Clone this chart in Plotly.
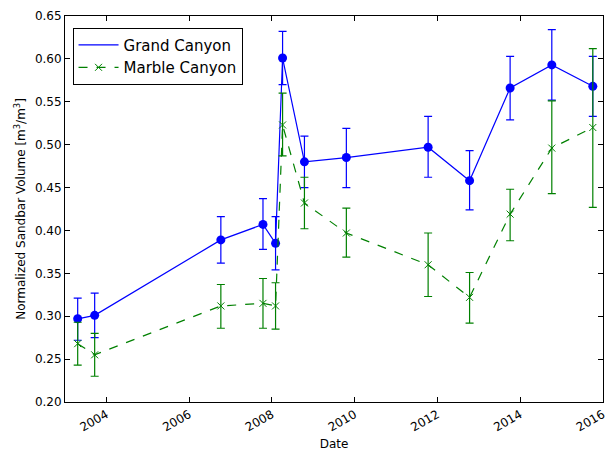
import plotly.graph_objects as go

dates = ["2003-04-23", "2003-09-20", "2006-10-08", "2007-10-15", "2008-02-03",
         "2008-04-05", "2008-10-15", "2009-10-20", "2011-10-12", "2012-10-12",
         "2013-10-05", "2014-10-08", "2015-10-05"]

grand = [0.297, 0.301, 0.389, 0.407, 0.385, 0.601, 0.480, 0.485, 0.497, 0.458,
         0.566, 0.593, 0.568]
grand_up = [0.024, 0.026, 0.027, 0.030, 0.031, 0.031, 0.030, 0.034, 0.036, 0.035,
            0.037, 0.041, 0.035]
grand_dn = [0.025, 0.026, 0.027, 0.029, 0.031, 0.031, 0.030, 0.035, 0.035, 0.034,
            0.037, 0.041, 0.035]

marble = [0.268, 0.255, 0.312, 0.315, 0.312, 0.523, 0.432, 0.397, 0.360, 0.322,
          0.419, 0.496, 0.520]
marble_up = [0.025, 0.025, 0.025, 0.029, 0.027, 0.037, 0.030, 0.029, 0.037, 0.029,
             0.029, 0.055, 0.092]
marble_dn = [0.025, 0.025, 0.026, 0.029, 0.027, 0.036, 0.030, 0.028, 0.037, 0.030,
             0.031, 0.053, 0.093]

x_ticks = ["2004-01-01", "2006-01-01", "2008-01-01", "2010-01-01", "2012-01-01",
           "2014-01-01", "2016-01-01"]
x_tick_labels = ["2004", "2006", "2008", "2010", "2012", "2014", "2016"]
y_ticks = [0.20, 0.25, 0.30, 0.35, 0.40, 0.45, 0.50, 0.55, 0.60, 0.65]

BLUE = "#0000ff"
GREEN = "#008000"

fig = go.Figure()

fig.add_trace(go.Scatter(
    x=dates, y=grand, mode="lines+markers", name="Grand Canyon",
    showlegend=False,
    line=dict(color=BLUE, width=1.2),
    marker=dict(color=BLUE, size=9, symbol="circle"),
    error_y=dict(type="data", array=grand_up, arrayminus=grand_dn,
                 color=BLUE, thickness=1.2, width=4),
))
fig.add_trace(go.Scatter(
    x=dates, y=marble, mode="lines+markers", name="Marble Canyon",
    showlegend=False,
    line=dict(color=GREEN, width=1.2, dash="dash"),
    marker=dict(color=GREEN, size=7, symbol="x-thin",
                line=dict(color=GREEN, width=1)),
    error_y=dict(type="data", array=marble_up, arrayminus=marble_dn,
                 color=GREEN, thickness=1.2, width=4),
))

# legend entries
fig.add_trace(go.Scatter(
    x=[None], y=[None], mode="lines", name="Grand Canyon",
    line=dict(color=BLUE, width=1.2),
))
fig.add_trace(go.Scatter(
    x=[None], y=[None], mode="lines+markers", name="Marble Canyon",
    line=dict(color=GREEN, width=1.2, dash="dash"),
    marker=dict(color=GREEN, size=7, symbol="x-thin",
                line=dict(color=GREEN, width=1)),
))

fig.update_layout(
    width=607, height=452,
    margin=dict(l=65, r=4, t=16, b=50, autoexpand=False),
    paper_bgcolor="white", plot_bgcolor="white",
    font=dict(family="DejaVu Sans", size=12, color="black"),
    showlegend=True,
    legend=dict(
        x=0.014, y=0.97, xanchor="left", yanchor="top",
        bordercolor="black", borderwidth=1, bgcolor="white",
        font=dict(size=15), tracegroupgap=0, itemwidth=40,
    ),
)

fig.update_xaxes(
    type="date", range=["2003-01-01", "2016-01-03"],
    tickvals=x_ticks, ticktext=x_tick_labels, tickangle=-30,
    ticklabeloverflow="allow",
    ticks="inside", ticklen=5, tickcolor="black",
    showline=True, linecolor="black", linewidth=1, mirror="allticks",
    showgrid=False, zeroline=False,
    title=dict(text="Date", standoff=6, font=dict(size=12)),
)
fig.update_yaxes(
    range=[0.20, 0.65], tickvals=y_ticks, tickformat=".2f",
    ticks="inside", ticklen=5, tickcolor="black",
    showline=True, linecolor="black", linewidth=1, mirror="allticks",
    showgrid=False, zeroline=False,
    title=dict(text="Normalized Sandbar Volume [m<sup>3</sup>/m<sup>3</sup>]",
               standoff=6, font=dict(size=12)),
)

fig.write_html(
    "out.html",
    config={"displayModeBar": False},
    post_script="document.body.style.margin='0';document.body.style.overflow='hidden';",
)
